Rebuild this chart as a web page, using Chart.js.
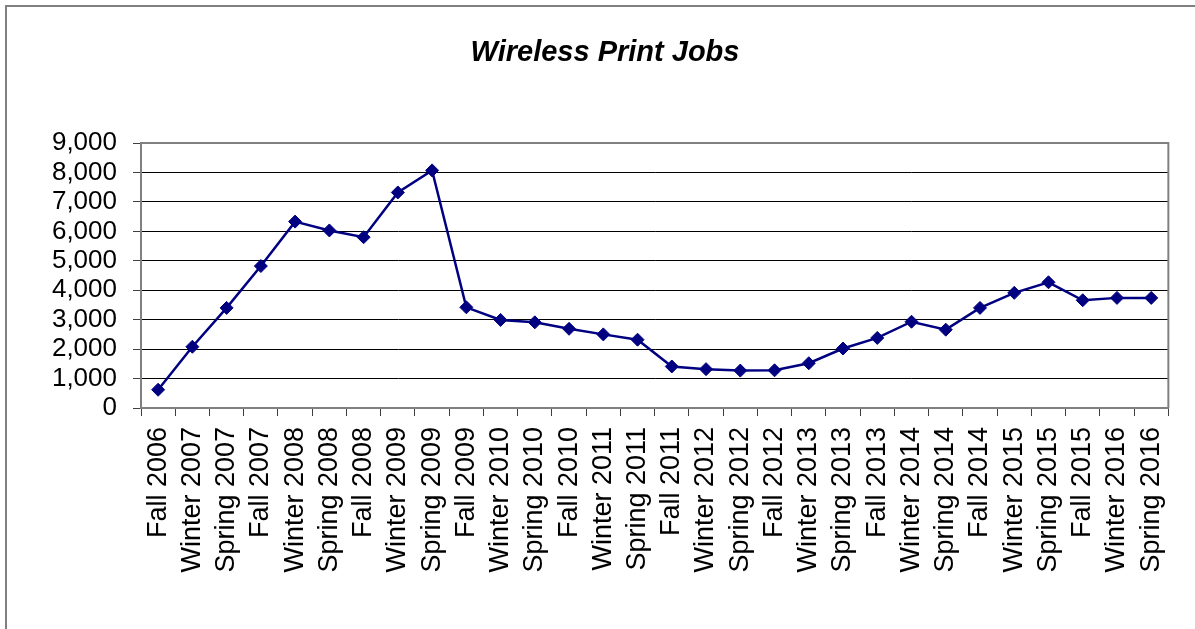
<!DOCTYPE html>
<html lang="en">
<head>
  <meta charset="UTF-8" />
  <title>Wireless Print Jobs</title>
  <script src="https://cdn.jsdelivr.net/npm/chart.js"></script>
  <style>
    html, body {
      margin: 0;
      padding: 0;
      background: #fff;
      overflow: hidden;
    }
    .frame {
      position: absolute;
      left: 5px;
      top: 5px;
      width: 1400px;
      height: 1000px;
      border: 2px solid #808080;
    }
    #printChart {
      position: absolute;
      left: 0;
      top: 0;
    }
  </style>
</head>
<body>

<div class="frame"></div>
<canvas id="printChart" width="1195" height="629"></canvas>

<script>
  const chartTitle = 'Wireless Print Jobs';

  const terms = [
    'Fall 2006', 'Winter 2007', 'Spring 2007', 'Fall 2007', 'Winter 2008', 'Spring 2008',
    'Fall 2008', 'Winter 2009', 'Spring 2009', 'Fall 2009', 'Winter 2010', 'Spring 2010',
    'Fall 2010', 'Winter 2011', 'Spring 2011', 'Fall 2011', 'Winter 2012', 'Spring 2012',
    'Fall 2012', 'Winter 2013', 'Spring 2013', 'Fall 2013', 'Winter 2014', 'Spring 2014',
    'Fall 2014', 'Winter 2015', 'Spring 2015', 'Fall 2015', 'Winter 2016', 'Spring 2016'
  ];

  const printJobs = [
    620, 2080, 3400, 4820, 6330, 6030,
    5800, 7320, 8070, 3420, 2990, 2910,
    2690, 2500, 2320, 1410, 1320, 1270,
    1280, 1520, 2020, 2380, 2930, 2660,
    3400, 3910, 4270, 3660, 3740, 3740
  ];

  const yMin = 0;
  const yMax = 9000;
  const yStep = 1000;

  const fontFamily = '"Liberation Sans", Arial, sans-serif';

  // title sits above the plot, drawn straight on the canvas
  const titlePlugin = {
    id: 'chartTitle',
    afterDraw(chart) {
      const ctx = chart.ctx;
      ctx.save();
      ctx.font = 'italic bold 29px ' + fontFamily;
      ctx.fillStyle = '#000';
      ctx.textAlign = 'center';
      ctx.textBaseline = 'middle';
      ctx.fillText(chartTitle, 605, 53);
      ctx.restore();
    }
  };

  // grey frame on the top and right of the plot area
  const plotFrame = {
    id: 'plotFrame',
    beforeDatasetsDraw(chart) {
      const { ctx, chartArea: a } = chart;
      ctx.save();
      ctx.strokeStyle = '#808080';
      ctx.lineWidth = 2;
      ctx.beginPath();
      ctx.moveTo(a.left, a.top);
      ctx.lineTo(a.right, a.top);
      ctx.lineTo(a.right, a.bottom);
      ctx.stroke();
      ctx.restore();
    }
  };

  const ctx = document.getElementById('printChart').getContext('2d');
  new Chart(ctx, {
    type: 'line',
    data: {
      labels: terms,
      datasets: [{
        label: chartTitle,
        data: printJobs,
        borderColor: '#000080',
        backgroundColor: '#000080',
        borderWidth: 2.5,
        pointStyle: 'rectRot',
        pointRadius: 6.5,
        pointBorderWidth: 1,
        fill: false,
        tension: 0
      }]
    },
    options: {
      responsive: false,
      animation: false,
      layout: {
        padding: { top: 143, right: 22, bottom: 0, left: 0 }
      },
      scales: {
        x: {
          offset: true,
          afterFit(scale) { scale.height = 221; },
          grid: {
            offset: true,
            drawOnChartArea: false,
            drawTicks: true,
            tickLength: 8,
            tickColor: '#404040'
          },
          border: { color: '#808080', width: 2 },
          ticks: {
            autoSkip: false,
            minRotation: 90,
            maxRotation: 90,
            padding: 11,
            color: '#000',
            font: { family: fontFamily, size: 27 }
          }
        },
        y: {
          min: yMin,
          max: yMax,
          afterFit(scale) { scale.width = 141; },
          grid: {
            color: '#000',
            lineWidth: 1,
            tickLength: 8,
            tickColor: '#404040'
          },
          border: { color: '#808080', width: 2 },
          ticks: {
            stepSize: yStep,
            autoSkip: false,
            padding: 16,
            color: '#000',
            font: { family: fontFamily, size: 26 },
            callback: v => v.toLocaleString('en-US')
          }
        }
      },
      plugins: {
        legend: { display: false },
        title: { display: false },
        tooltip: { enabled: false }
      }
    },
    plugins: [titlePlugin, plotFrame]
  });
</script>

</body>
</html>
